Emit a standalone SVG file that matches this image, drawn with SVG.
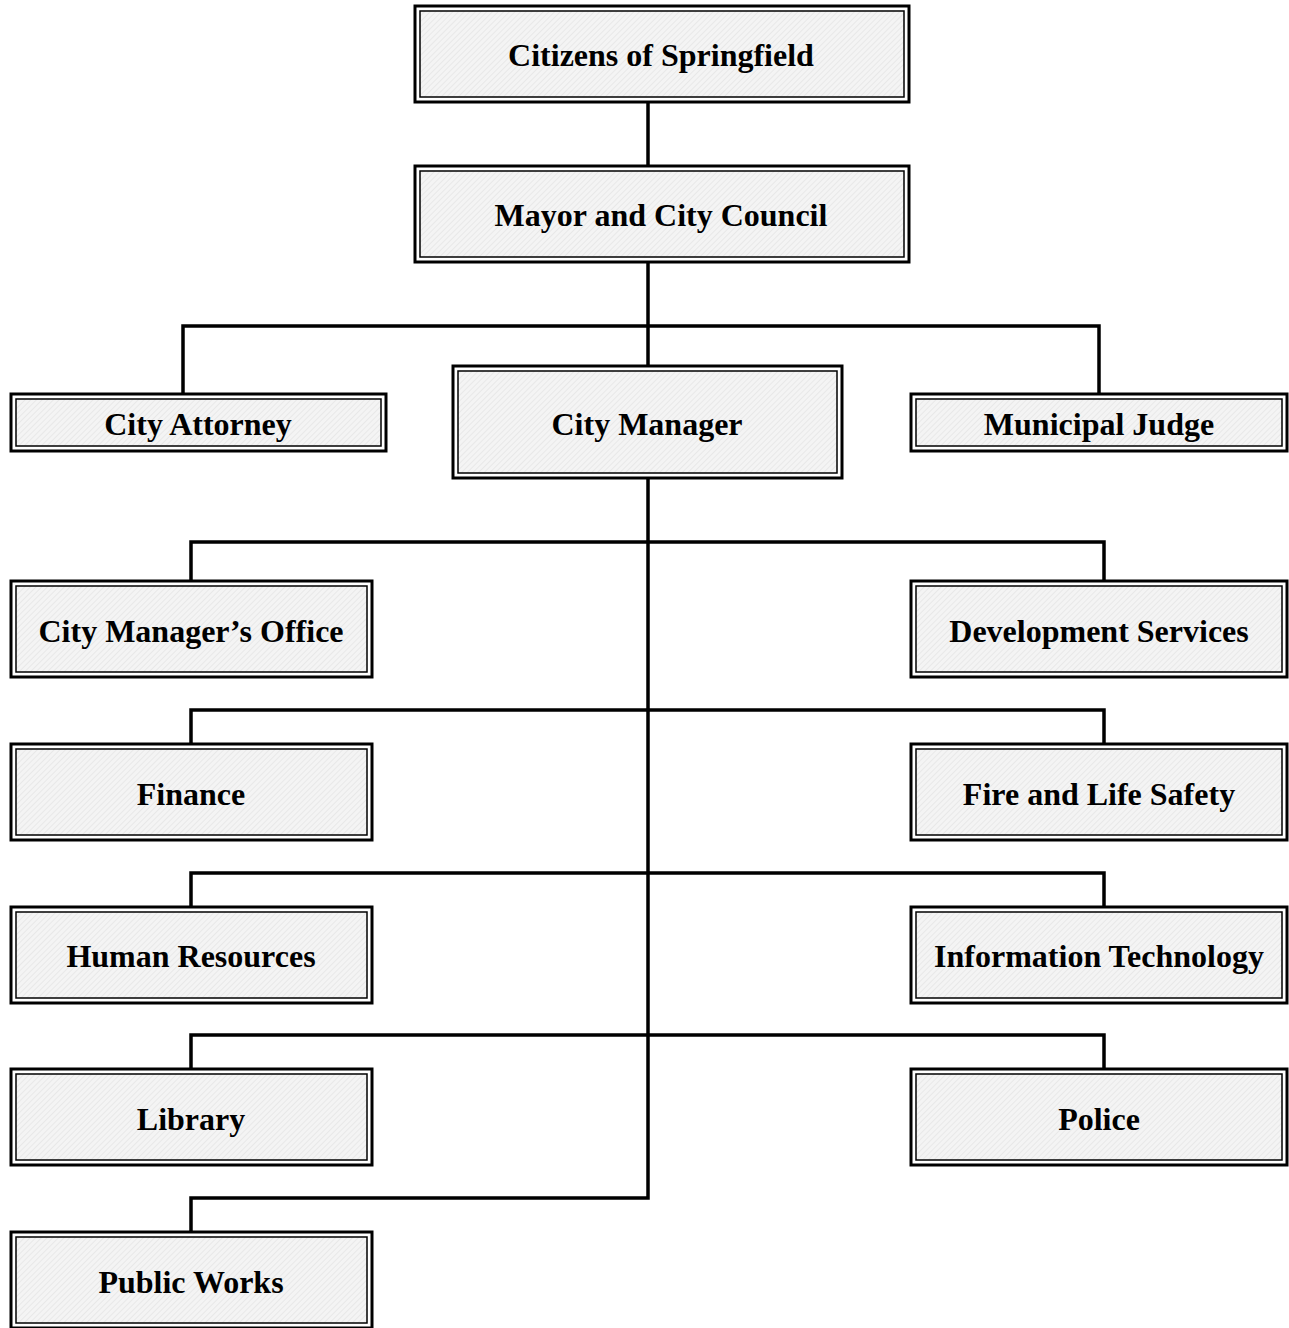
<svg xmlns="http://www.w3.org/2000/svg" width="1289" height="1328" viewBox="0 0 1289 1328">
<defs>
<pattern id="hatch" width="4" height="4" patternUnits="userSpaceOnUse" patternTransform="rotate(45)">
<rect width="4" height="4" fill="#f4f4f4"/>
<line x1="0" y1="0" x2="0" y2="4" stroke="#e4e4e4" stroke-width="1.5"/>
</pattern>
<style>
.outer{fill:#ffffff;stroke:#000;stroke-width:3}
.inner{fill:url(#hatch);stroke:#000;stroke-width:1.5}
.lbl{font-family:"Liberation Serif","Times New Roman",serif;font-weight:bold;font-size:32px;fill:#000;text-anchor:middle;dominant-baseline:central}
.conn{fill:none;stroke:#000;stroke-width:3.5}
</style>
</defs>
<rect width="1289" height="1328" fill="#fff"/>
<g id="connectors">
<path class="conn" d="M648 102V166"/>
<path class="conn" d="M648 262V366"/>
<path class="conn" d="M183 393V326H1099V393"/>
<path class="conn" d="M648 478V1198H191V1231"/>
<path class="conn" d="M191 580V542H1104V580"/>
<path class="conn" d="M191 743V710H1104V743"/>
<path class="conn" d="M191 906V873H1104V906"/>
<path class="conn" d="M191 1068V1035H1104V1068"/>
</g>
<g id="citizens"><rect class="outer" x="415" y="6" width="494" height="96"/><rect class="inner" x="420" y="11" width="484" height="86"/><text class="lbl" x="661" y="55">Citizens of Springfield</text></g>
<g id="mayor"><rect class="outer" x="415" y="166" width="494" height="96"/><rect class="inner" x="420" y="171" width="484" height="86"/><text class="lbl" x="661" y="215">Mayor and City Council</text></g>
<g id="attorney"><rect class="outer" x="11" y="394" width="375" height="57"/><rect class="inner" x="16" y="399" width="365" height="47"/><text class="lbl" x="198" y="424">City Attorney</text></g>
<g id="manager"><rect class="outer" x="453" y="366" width="389" height="112"/><rect class="inner" x="458" y="371" width="379" height="102"/><text class="lbl" x="647" y="424">City Manager</text></g>
<g id="judge"><rect class="outer" x="911" y="394" width="376" height="57"/><rect class="inner" x="916" y="399" width="366" height="47"/><text class="lbl" x="1099" y="424">Municipal Judge</text></g>
<g id="cmo"><rect class="outer" x="11" y="581" width="361" height="96"/><rect class="inner" x="16" y="586" width="351" height="86"/><text class="lbl" x="191" y="631">City Manager’s Office</text></g>
<g id="dev"><rect class="outer" x="911" y="581" width="376" height="96"/><rect class="inner" x="916" y="586" width="366" height="86"/><text class="lbl" x="1099" y="631">Development Services</text></g>
<g id="finance"><rect class="outer" x="11" y="744" width="361" height="96"/><rect class="inner" x="16" y="749" width="351" height="86"/><text class="lbl" x="191" y="794">Finance</text></g>
<g id="fire"><rect class="outer" x="911" y="744" width="376" height="96"/><rect class="inner" x="916" y="749" width="366" height="86"/><text class="lbl" x="1099" y="794">Fire and Life Safety</text></g>
<g id="hr"><rect class="outer" x="11" y="907" width="361" height="96"/><rect class="inner" x="16" y="912" width="351" height="86"/><text class="lbl" x="191" y="956">Human Resources</text></g>
<g id="it"><rect class="outer" x="911" y="907" width="376" height="96"/><rect class="inner" x="916" y="912" width="366" height="86"/><text class="lbl" x="1099" y="956">Information Technology</text></g>
<g id="library"><rect class="outer" x="11" y="1069" width="361" height="96"/><rect class="inner" x="16" y="1074" width="351" height="86"/><text class="lbl" x="191" y="1119">Library</text></g>
<g id="police"><rect class="outer" x="911" y="1069" width="376" height="96"/><rect class="inner" x="916" y="1074" width="366" height="86"/><text class="lbl" x="1099" y="1119">Police</text></g>
<g id="publicworks"><rect class="outer" x="11" y="1232" width="361" height="96"/><rect class="inner" x="16" y="1237" width="351" height="86"/><text class="lbl" x="191" y="1282">Public Works</text></g>
</svg>
